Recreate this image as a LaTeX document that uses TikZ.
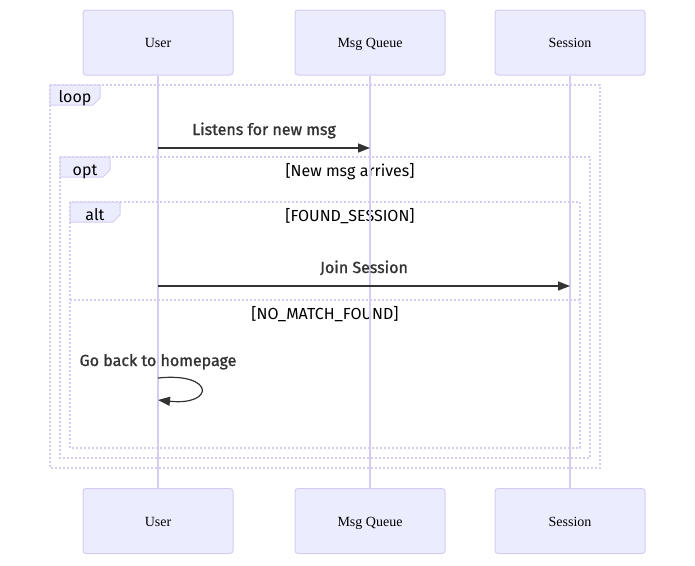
\documentclass[tikz,border=0pt]{standalone}
\usepackage{fontspec}
\setmainfont{Liberation Serif}
\newfontfamily\msgfont{Fira Sans}[FakeBold=1.2]
\newfontfamily\lblfont{Fira Sans}
\usetikzlibrary{arrows.meta}
\definecolor{actfill}{HTML}{ECECFF}
\definecolor{actborder}{HTML}{D6CCF2}
\definecolor{framec}{HTML}{D6CCF2}
\definecolor{txt}{HTML}{333333}
\tikzset{
  actor/.style={draw=actborder, fill=actfill, line width=1pt, rounded corners=3pt,
    minimum width=150pt, minimum height=65pt, inner sep=0pt, text height=10pt, text depth=0pt,
    font=\fontsize{14}{16}\selectfont, text=black},
  life/.style={draw=actborder, line width=1.6pt},
  frame/.style={draw=framec, line width=1.5pt, dash pattern=on 2pt off 2pt},
  tab/.style={draw=framec, fill=actfill, line width=1pt},
  msg/.style={draw=txt, line width=1.5pt, -{Triangle[length=12pt,width=9pt]}},
  msgtxt/.style={font=\msgfont\fontsize{16}{18}\selectfont, text=txt, inner sep=0pt, text height=12pt, text depth=2pt},
  lbltxt/.style={font=\lblfont\fontsize{16}{18}\selectfont, text=black, inner sep=0pt, text height=13pt, text depth=1pt},
}
\begin{document}
\begin{tikzpicture}[x=1pt,y=-1pt]
\useasboundingbox (0,0) rectangle (695,565);
% actors
\node[actor] (u1) at (158,42.5) {User};
\node[actor] (q1) at (370,42.5) {Msg Queue};
\node[actor] (s1) at (570,42.5) {Session};
\node[actor] (u2) at (158,521) {User};
\node[actor] (q2) at (370,521) {Msg Queue};
\node[actor] (s2) at (570,521) {Session};
% frames
\draw[frame] (50,85) rectangle (600,468);
\draw[tab] (50,85) -- (100,85) -- (100,98) -- (93,105) -- (50,105) -- cycle;
\node[lbltxt] (lloop) at (75,96) {loop};
\draw[frame] (60,157) rectangle (590,458);
\draw[tab] (60,157) -- (110,157) -- (110,170) -- (103,177) -- (60,177) -- cycle;
\node[lbltxt] (lopt) at (85,169) {opt};
\node[lbltxt] (copt) at (350,170) {[New msg arrives]};
\draw[frame] (70,202) rectangle (580,448);
\draw[tab] (70,202) -- (120,202) -- (120,215) -- (113,222) -- (70,222) -- cycle;
\node[lbltxt] (lalt) at (95,214) {alt};
\node[lbltxt] (calt1) at (350,215) {[FOUND\_SESSION]};
\draw[frame] (70,300) -- (580,300);
\node[lbltxt] (calt2) at (325,313) {[NO\_MATCH\_FOUND]};
% lifelines
\draw[life] (u1.south) -- (u2.north);
\draw[life] (q1.south) -- (q2.north);
\draw[life] (s1.south) -- (s2.north);
% messages
\coordinate (m1a) at (158,148);
\coordinate (m1b) at (370,148);
\draw[msg] (m1a) -- (m1b);
\node[msgtxt] (t1) at (264,130) {Listens for new msg};
\coordinate (m2a) at (158,286);
\coordinate (m2b) at (570,286);
\draw[msg] (m2a) -- (m2b);
\node[msgtxt] (t2) at (364,268) {Join Session};
\coordinate (m3a) at (158,378);
\coordinate (m3b) at (158,400);
\draw[msg, line width=1.2pt] (m3a) .. controls (215,372) and (215,406) .. (m3b);
\node[msgtxt] (t3) at (158,361) {Go back to homepage};
\end{tikzpicture}
\end{document}
